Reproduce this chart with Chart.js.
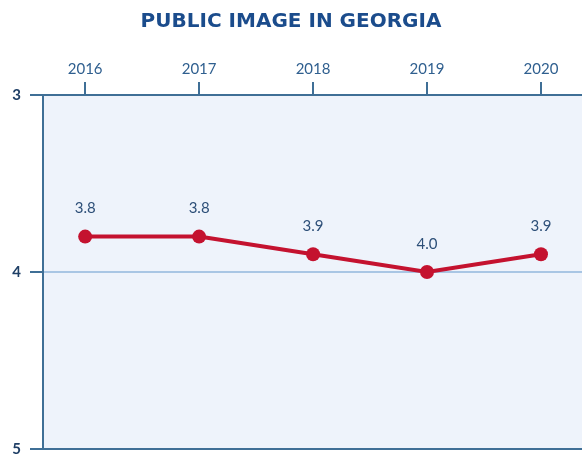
<!DOCTYPE html>
<html>
<head>
<meta charset="utf-8">
<script src="https://cdn.jsdelivr.net/npm/chart.js@4"></script>
<style>
  html, body { margin: 0; padding: 0; background: #ffffff; }
  #wrap { width: 582px; height: 456px; }
</style>
</head>
<body>
<div id="wrap"><canvas id="chart" width="582" height="456"></canvas></div>
<script>
'use strict';

// 데이터
const years = [2016, 2017, 2018, 2019, 2020];
const scores = [3.8, 3.8, 3.9, 4.0, 3.9];
const scoreLabels = ['3.8', '3.8', '3.9', '4.0', '3.9'];
const yTicks = [3, 4, 5];

// 색상
const colors = {
    title: '#1b4c8c',
    axis: '#3f6f96',
    yearText: '#2f5f8f',
    yText: '#1f3f66',
    midLine: '#a9c6e4',
    plotBg: '#eef3fb',
    line: '#c4122f',
    valueText: '#2d4f78'
};

// 플롯 배경
const plotBackground = {
    id: 'plotBackground',
    beforeDraw(chart) {
        const { ctx, chartArea } = chart;
        ctx.save();
        ctx.fillStyle = colors.plotBg;
        ctx.fillRect(chartArea.left, chartArea.top, chartArea.right - chartArea.left, chartArea.bottom - chartArea.top);
        ctx.restore();
    }
};

// 값 라벨
const valueLabels = {
    id: 'valueLabels',
    afterDatasetsDraw(chart) {
        const { ctx } = chart;
        const meta = chart.getDatasetMeta(0);
        ctx.save();
        ctx.font = '15px Lato, "Open Sans", sans-serif';
        ctx.fillStyle = colors.valueText;
        ctx.textAlign = 'center';
        ctx.textBaseline = 'middle';
        meta.data.forEach((pt, i) => {
            ctx.fillText(scoreLabels[i], pt.x, pt.y - 28);
        });
        ctx.restore();
    }
};

new Chart(document.getElementById('chart'), {
    type: 'line',
    data: {
        datasets: [{
            data: years.map((y, i) => ({ x: y, y: scores[i] })),
            borderColor: colors.line,
            backgroundColor: colors.line,
            borderWidth: 4,
            pointRadius: 7,
            pointHoverRadius: 7,
            pointBorderWidth: 0,
            tension: 0,
            clip: false
        }]
    },
    options: {
        responsive: false,
        animation: false,
        layout: { autoPadding: false, padding: { top: 0, right: 0, bottom: 7, left: 0 } },
        plugins: {
            legend: { display: false },
            tooltip: { enabled: false },
            title: {
                display: true,
                text: 'PUBLIC IMAGE IN GEORGIA',
                color: colors.title,
                font: { family: '"DejaVu Sans", sans-serif', size: 20, weight: 'bold' },
                padding: { top: 10, bottom: 7.4 }
            }
        },
        scales: {
            x: {
                type: 'linear',
                position: 'top',
                min: 2015.63,
                max: 2020.36,
                afterBuildTicks: scale => {
                    scale.ticks = years.map(v => ({ value: v }));
                },
                afterFit: scale => {
                    scale.height = 53.6;
                    scale.paddingLeft = 0;
                    scale.paddingRight = 0;
                },
                grid: {
                    drawOnChartArea: false,
                    tickLength: 13,
                    tickColor: colors.axis,
                    lineWidth: 2
                },
                border: { color: colors.axis, width: 2 },
                ticks: {
                    padding: 4,
                    color: colors.yearText,
                    font: { family: 'Lato, "Open Sans", sans-serif', size: 15 },
                    callback: v => String(v)
                }
            },
            y: {
                type: 'linear',
                reverse: true,
                min: 3,
                max: 5,
                afterBuildTicks: scale => {
                    scale.ticks = yTicks.map(v => ({ value: v }));
                },
                afterFit: scale => {
                    scale.width = 43;
                    scale.paddingTop = 0;
                    scale.paddingBottom = 0;
                },
                grid: {
                    tickLength: 13,
                    lineWidth: 2,
                    tickColor: colors.axis,
                    color: ctx => {
                        const v = ctx.tick ? ctx.tick.value : null;
                        if (v === 4) return colors.midLine;
                        if (v === 5) return colors.axis;
                        return 'rgba(0,0,0,0)';
                    }
                },
                border: { color: colors.axis, width: 2 },
                ticks: {
                    padding: 9,
                    color: colors.yText,
                    font: { family: 'Lato, "Open Sans", sans-serif', size: 15, weight: 'bold' }
                }
            }
        }
    },
    plugins: [plotBackground, valueLabels]
});
</script>
</body>
</html>
